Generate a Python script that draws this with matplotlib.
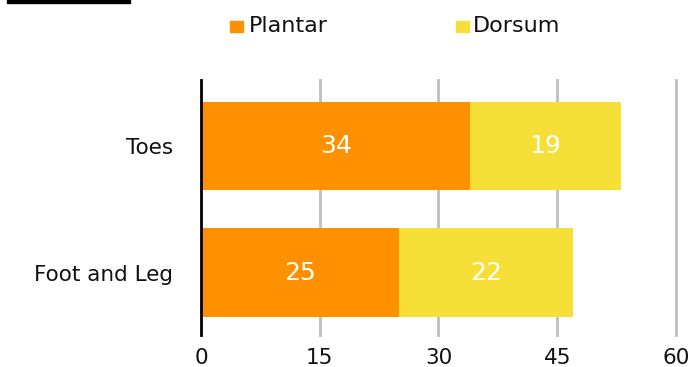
import matplotlib
matplotlib.use("Agg")
import matplotlib.pyplot as plt
from matplotlib.patches import Rectangle

categories = ["Foot and Leg", "Toes"]
plantar = [25, 34]
dorsum = [22, 19]
x_ticks = [0, 15, 30, 45, 60]
series_names = ["Plantar", "Dorsum"]

c_plantar = "#FF9000"
c_dorsum = "#F6DF36"

plt.rcParams["font.family"] = ["DejaVu Sans"]

W, H = 693, 367
fig = plt.figure(figsize=(W / 100, H / 100), dpi=100)
ax = fig.add_axes([201 / W, 1 - 335 / H, 475 / W, 255 / H])

ypos = list(range(len(categories)))
ax.barh(ypos, plantar, height=0.7, color=c_plantar, zorder=3)
ax.barh(ypos, dorsum, left=plantar, height=0.7, color=c_dorsum, zorder=3)

for y, p, d in zip(ypos, plantar, dorsum):
    ax.text(p / 2, y, str(p), ha="center", va="center", color="white", fontsize=18, zorder=4)
    ax.text(p + d / 2, y, str(d), ha="center", va="center", color="white", fontsize=18, zorder=4)

ax.set_xlim(0, 60)
ax.set_ylim(-0.49, 1.52)
ax.set_xticks(x_ticks)
ax.set_xticklabels([str(t) for t in x_ticks], fontsize=15.5, color="#111111")
ax.set_yticks(ypos)
ax.set_yticklabels(categories, fontsize=15.5, color="#111111")
ax.tick_params(axis="x", length=0, pad=9)
ax.tick_params(axis="y", length=0, pad=20)

for t in x_ticks[1:]:
    ax.axvline(t, color="#BFBFBF", lw=2, zorder=1, clip_on=False)
ax.axvline(0, color="black", lw=2, zorder=5, clip_on=False)
for s in ax.spines.values():
    s.set_visible(False)

# legend: square swatch followed by the series name
legend_items = [(230, 249, c_plantar), (456, 473, c_dorsum)]
for name, (sx, tx, col) in zip(series_names, legend_items):
    fig.patches.append(Rectangle((sx / W, 1 - 32 / H), 13 / W, 11 / H,
                                 transform=fig.transFigure, color=col))
    fig.text(tx / W, 1 - 32 / H, name, ha="left", va="baseline",
             fontsize=16, color="#111111")

# small black bar in the top-left corner
fig.patches.append(Rectangle((7 / W, 1 - 3 / H), 123 / W, 3 / H,
                             transform=fig.transFigure, color="black"))

fig.savefig("out.png", dpi=100)
